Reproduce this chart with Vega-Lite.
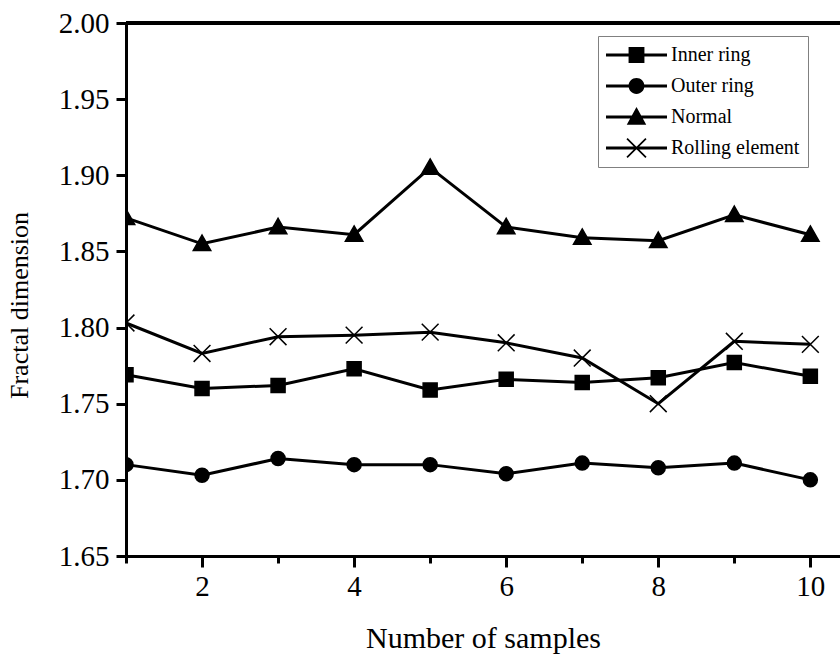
{
  "$schema": "https://vega.github.io/schema/vega-lite/v6.json",
  "autosize": {"type": "none"},
  "padding": {"left": 126, "top": 23, "right": 0, "bottom": 99},
  "width": 714,
  "height": 533,
  "background": "white",
  "config": {"view": {"stroke": null}, "font": "Liberation Serif"},
  "data": {
    "values": [
      {"x": 1, "series": "Inner ring", "y": 1.769},
      {"x": 2, "series": "Inner ring", "y": 1.760},
      {"x": 3, "series": "Inner ring", "y": 1.762},
      {"x": 4, "series": "Inner ring", "y": 1.773},
      {"x": 5, "series": "Inner ring", "y": 1.759},
      {"x": 6, "series": "Inner ring", "y": 1.766},
      {"x": 7, "series": "Inner ring", "y": 1.764},
      {"x": 8, "series": "Inner ring", "y": 1.767},
      {"x": 9, "series": "Inner ring", "y": 1.777},
      {"x": 10, "series": "Inner ring", "y": 1.768},
      {"x": 1, "series": "Outer ring", "y": 1.710},
      {"x": 2, "series": "Outer ring", "y": 1.703},
      {"x": 3, "series": "Outer ring", "y": 1.714},
      {"x": 4, "series": "Outer ring", "y": 1.710},
      {"x": 5, "series": "Outer ring", "y": 1.710},
      {"x": 6, "series": "Outer ring", "y": 1.704},
      {"x": 7, "series": "Outer ring", "y": 1.711},
      {"x": 8, "series": "Outer ring", "y": 1.708},
      {"x": 9, "series": "Outer ring", "y": 1.711},
      {"x": 10, "series": "Outer ring", "y": 1.700},
      {"x": 1, "series": "Normal", "y": 1.872},
      {"x": 2, "series": "Normal", "y": 1.855},
      {"x": 3, "series": "Normal", "y": 1.866},
      {"x": 4, "series": "Normal", "y": 1.861},
      {"x": 5, "series": "Normal", "y": 1.905},
      {"x": 6, "series": "Normal", "y": 1.866},
      {"x": 7, "series": "Normal", "y": 1.859},
      {"x": 8, "series": "Normal", "y": 1.857},
      {"x": 9, "series": "Normal", "y": 1.874},
      {"x": 10, "series": "Normal", "y": 1.861},
      {"x": 1, "series": "Rolling element", "y": 1.803},
      {"x": 2, "series": "Rolling element", "y": 1.783},
      {"x": 3, "series": "Rolling element", "y": 1.794},
      {"x": 4, "series": "Rolling element", "y": 1.795},
      {"x": 5, "series": "Rolling element", "y": 1.797},
      {"x": 6, "series": "Rolling element", "y": 1.790},
      {"x": 7, "series": "Rolling element", "y": 1.780},
      {"x": 8, "series": "Rolling element", "y": 1.750},
      {"x": 9, "series": "Rolling element", "y": 1.791},
      {"x": 10, "series": "Rolling element", "y": 1.789}
    ]
  },
  "resolve": {"scale": {"shape": "independent"}},
  "layer": [
    {
      "mark": {"type": "line", "color": "black", "strokeWidth": 3},
      "encoding": {
        "x": {
          "field": "x",
          "type": "quantitative",
          "scale": {"domain": [1, 10.39], "nice": false, "zero": false},
          "axis": {
            "values": [1, 2, 3, 4, 5, 6, 7, 8, 9, 10],
            "format": "d",
            "labelExpr": "datum.value % 2 == 0 ? datum.label : ''",
            "tickSize": {"condition": {"test": "datum.value % 2 == 0", "value": 11}, "value": 7},
            "tickWidth": 3,
            "tickColor": "black",
            "domainColor": "black",
            "domainWidth": 3,
            "grid": false,
            "labelFontSize": 29,
            "labelColor": "black",
            "labelFont": "Liberation Serif",
            "labelPadding": 5,
            "labelFlush": false,
            "labelOverlap": false,
            "labelBound": false,
            "title": "Number of samples",
            "titleFont": "Liberation Serif",
            "titleFontSize": 30,
            "titleFontWeight": "normal",
            "titleColor": "black",
            "titleBaseline": "alphabetic",
            "titleY": 91
          }
        },
        "y": {
          "field": "y",
          "type": "quantitative",
          "scale": {"domain": [1.65, 2.0], "nice": false, "zero": false},
          "axis": {
            "values": [1.65, 1.675, 1.7, 1.725, 1.75, 1.775, 1.8, 1.825, 1.85, 1.875, 1.9, 1.925, 1.95, 1.975, 2.0],
            "labelExpr": "round(datum.value*1000) % 50 == 0 ? format(datum.value, '.2f') : ''",
            "tickSize": {"condition": {"test": "round(datum.value*1000) % 50 == 0", "value": 10}, "value": 6},
            "tickWidth": 3,
            "tickColor": "black",
            "domainColor": "black",
            "domainWidth": 3,
            "grid": false,
            "labelFontSize": 29,
            "labelColor": "black",
            "labelFont": "Liberation Serif",
            "labelPadding": 7,
            "labelFlush": false,
            "labelOverlap": false,
            "labelBound": false,
            "title": "Fractal dimension",
            "titleFont": "Liberation Serif",
            "titleFontSize": 26,
            "titleFontWeight": "normal",
            "titleColor": "black",
            "titleBaseline": "alphabetic",
            "titleX": -99,
            "titleY": 282
          }
        },
        "detail": {"field": "series", "type": "nominal"}
      }
    },
    {
      "mark": {"type": "rule", "color": "black", "strokeWidth": 3},
      "encoding": {
        "y": {"datum": 2.0, "type": "quantitative"}
      }
    },
    {
      "mark": {"type": "point", "filled": true, "fill": "black", "stroke": "black", "strokeWidth": 1.5, "size": 196, "opacity": 1, "clip": true},
      "encoding": {
        "x": {"field": "x", "type": "quantitative"},
        "y": {"field": "y", "type": "quantitative"},
        "shape": {
          "field": "series",
          "type": "nominal",
          "scale": {
            "domain": ["Inner ring", "Outer ring", "Normal", "Rolling element"],
            "range": ["square", "circle", "M0,-1.25L1.25,0.95L-1.25,0.95Z", "M-1.2,-1.2L1.2,1.2M-1.2,1.2L1.2,-1.2"]
          },
          "legend": null
        }
      }
    },
    {
      "transform": [{"filter": "datum.x > 100"}],
      "mark": {"type": "point", "filled": true, "fill": "black", "size": 196, "opacity": 1},
      "encoding": {
        "x": {"field": "x", "type": "quantitative"},
        "y": {"field": "y", "type": "quantitative"},
        "shape": {
          "field": "series",
          "type": "nominal",
          "scale": {
            "domain": ["Inner ring", "Outer ring", "Normal", "Rolling element"],
            "range": [
              "M-1,-0.05H1V0.05H-1ZM-0.26,-0.26H0.26V0.26H-0.26Z",
              "M-1,-0.05H1V0.05H-1ZM-0.26,0A0.26,0.26 0 1,1 0.26,0A0.26,0.26 0 1,1 -0.26,0Z",
              "M-1,-0.05H1V0.05H-1ZM0,-0.33L0.32,0.25L-0.32,0.25Z",
              "M-1,-0.05H1V0.05H-1ZM-0.33,-0.29L-0.29,-0.33L0.33,0.29L0.29,0.33ZM0.29,-0.33L0.33,-0.29L-0.29,0.33L-0.33,0.29Z"
            ]
          },
          "legend": {
            "orient": "none",
            "legendX": 472,
            "legendY": 13,
            "title": null,
            "strokeColor": "#808080",
            "fillColor": "white",
            "padding": 8,
            "labelFontSize": 20,
            "labelFont": "Liberation Serif",
            "labelColor": "black",
            "labelOffset": 4,
            "rowPadding": 9,
            "clipHeight": 22,
            "symbolSize": 3721,
            "symbolFillColor": "black",
            "symbolStrokeWidth": 0,
            "symbolOpacity": 1
          }
        }
      }
    }
  ]
}
